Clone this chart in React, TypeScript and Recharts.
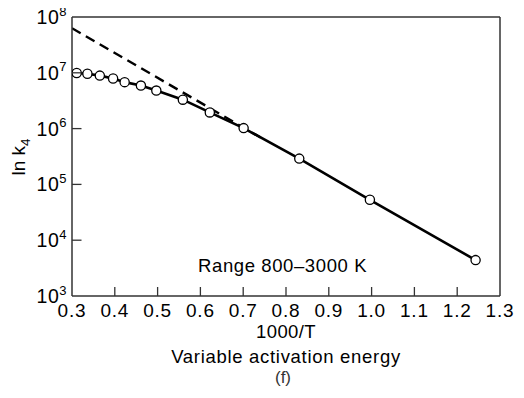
import React from 'react';
import {
  ComposedChart,
  Line,
  XAxis,
  YAxis,
  ReferenceLine,
  ReferenceDot,
} from 'recharts';

// 1000/T values of the measured points
const invTemp = [0.311, 0.336, 0.365, 0.396, 0.423, 0.461, 0.497, 0.559, 0.622, 0.701, 0.831, 0.996, 1.243];
// rate constant k4 at those points
const k4 = [9.9e6, 9.6e6, 8.9e6, 7.9e6, 6.8e6, 5.9e6, 4.8e6, 3.3e6, 1.95e6, 1.02e6, 2.9e5, 5.3e4, 4.4e3];

// dashed extrapolation of the low-temperature line
const dashInvTemp = [0.3, 0.75];
const dashK4 = [6.3e7, 6.3e5];

const xTicks = [0.3, 0.4, 0.5, 0.6, 0.7, 0.8, 0.9, 1.0, 1.1, 1.2, 1.3];
const yTicks = [1e3, 1e4, 1e5, 1e6, 1e7, 1e8];

const INK = '#000';
const FRAME = '#333';
const FONT = '"Liberation Sans", Arial, Helvetica, sans-serif';

const mainData = invTemp.map((x, i) => ({ x, k: k4[i] }));
const dashData = dashInvTemp.map((x, i) => ({ x, k: dashK4[i] }));

function XTick({ x, y, payload }: any) {
  const v = payload.value;
  const inner = v > 0.3 && v < 1.3;
  return (
    <g>
      {inner && <line x1={x} x2={x} y1={y - 7} y2={y - 7 - 9} stroke={FRAME} strokeWidth={1.3} />}
      <text x={x} y={y} dy="0.72em" textAnchor="middle" fontSize={19} letterSpacing={0.8} fill={INK}>
        {v.toFixed(1)}
      </text>
    </g>
  );
}

function YTick({ x, y, payload }: any) {
  const exp = Math.round(Math.log10(payload.value));
  const inner = exp > 3 && exp < 8;
  return (
    <g>
      {inner && <line x1={x + 5} x2={x + 5 + 9.5} y1={y} y2={y} stroke={FRAME} strokeWidth={1.3} />}
      <text x={x} y={y} dy={7} textAnchor="end" fontSize={19.5} letterSpacing={0.5} fill={INK}>
        10
        <tspan dy={-8.5} fontSize={13}>
          {exp}
        </tspan>
      </text>
    </g>
  );
}

function XTitle({ viewBox }: any) {
  const cx = viewBox.x + viewBox.width / 2;
  const top = viewBox.y;
  return (
    <g fill={INK}>
      <text x={cx} y={top + 42} textAnchor="middle" fontSize={18.5} letterSpacing={0.4}>
        1000/T
      </text>
      <text x={cx} y={top + 67} textAnchor="middle" fontSize={18.5} letterSpacing={0.7}>
        Variable activation energy
      </text>
      <text x={cx - 3} y={top + 87} textAnchor="middle" fontSize={17} fill="#333">
        (f)
      </text>
    </g>
  );
}

function YTitle() {
  return (
    <text x={0} y={0} transform="translate(25,157) rotate(-90)" textAnchor="middle" fontSize={19} fill={INK}>
      ln k
      <tspan dy={5} fontSize={13.5}>
        4
      </tspan>
    </text>
  );
}

export default function App() {
  return (
    <div style={{ margin: -8, fontFamily: FONT, background: '#fff', width: 524, height: 398 }}>
      <ComposedChart width={524} height={398} margin={{ top: 17, right: 24, bottom: 72, left: 0 }}>
        <XAxis
          dataKey="x"
          type="number"
          domain={[0.3, 1.3]}
          ticks={xTicks}
          allowDataOverflow
          height={30}
          tickSize={0}
          tickMargin={7}
          tick={<XTick />}
          axisLine={{ stroke: FRAME, strokeWidth: 1.5 }}
          label={<XTitle />}
        />
        <YAxis
          type="number"
          scale="log"
          domain={[1e3, 1e8]}
          ticks={yTicks}
          allowDataOverflow
          width={72}
          tickSize={0}
          tickMargin={5}
          tick={<YTick />}
          axisLine={{ stroke: FRAME, strokeWidth: 1.5 }}
          label={<YTitle />}
        />
        <ReferenceLine x={1.3} stroke={FRAME} strokeWidth={1.5} />
        <ReferenceLine y={1e8} stroke={FRAME} strokeWidth={1.5} />
        <ReferenceDot
          x={0.792}
          y={3.6e3}
          r={0}
          fill="none"
          stroke="none"
          label={{ value: 'Range 800–3000 K', position: 'center', fontSize: 18.5, fill: INK, letterSpacing: 0.6 }}
        />
        <Line
          data={dashData}
          dataKey="k"
          type="linear"
          stroke="#000"
          strokeWidth={2.4}
          strokeDasharray="10 6"
          dot={false}
          isAnimationActive={false}
        />
        <Line
          data={mainData}
          dataKey="k"
          type="linear"
          stroke="#000"
          strokeWidth={2.6}
          dot={{ r: 4.6, fill: '#fff', stroke: '#000', strokeWidth: 1.3 }}
          isAnimationActive={false}
        />
      </ComposedChart>
    </div>
  );
}
